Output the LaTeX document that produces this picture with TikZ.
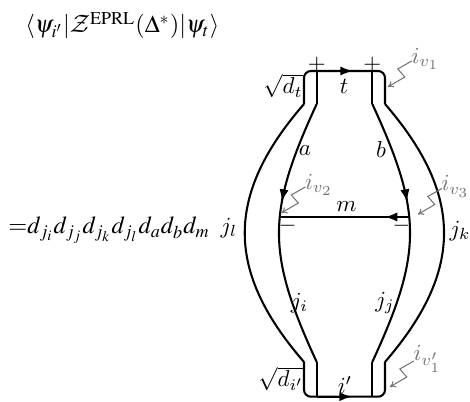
\documentclass[tikz,border=0pt]{standalone}
\usepackage{amsmath}
\usepackage{mathptmx}
\renewcommand{\rmdefault}{lmr}
\DeclareMathAlphabet{\mathcal}{OMS}{cmsy}{m}{n}
% Computer Modern math for the labels inside the diagram
\DeclareMathVersion{cmv}
\SetSymbolFont{operators}{cmv}{OT1}{cmr}{m}{n}
\SetSymbolFont{letters}{cmv}{OML}{cmm}{m}{it}
\SetSymbolFont{symbols}{cmv}{OMS}{cmsy}{m}{n}
\SetSymbolFont{largesymbols}{cmv}{OMX}{cmex}{m}{n}
\usepackage{tikz}
\usetikzlibrary{arrows.meta,decorations.markings}

\tikzset{
  strand/.style={line width=0.9pt},
  fwd/.style={-{Latex[length=5.5pt,width=4pt]}},
  midtip/.style={postaction={decorate,decoration={markings,
      mark=at position #1 with {\arrow{Latex[length=5.5pt,width=4pt]}}}}},
  lbl/.style={font=\mathversion{cmv}, inner sep=1pt},
  vtx/.style={lbl, text=black!55},
  zig/.style={black!55, line width=0.45pt, -{To[length=2.5pt,width=3pt]}},
  tms/.style={font=\mathversion{normal}\fontsize{10.6}{13}\selectfont, inner sep=0pt}
}
\newcommand{\zig}[1]{\draw[zig] ([shift={(3,2)}]#1.west) -- ++(-14,8) -- ++(7,8) -- ++(-17,10);}

\begin{document}
\begin{tikzpicture}[x=0.4345pt,y=-0.4345pt]
  \useasboundingbox (0,0) rectangle (470,402);

  % formulas
  \node[tms,anchor=base west] (amp) at (25,33)
    {$\langle\psi_{i'}|\mathcal{Z}^{\mathrm{EPRL}}(\Delta^*)|\psi_t\rangle$};
  \node[tms,anchor=base west] (lhs) at (8,234) {${=}d_{j_i}d_{j_j}d_{j_k}d_{j_l}d_ad_bd_m$};

  % corners of the two tubes
  \coordinate (tl) at (304,104);   \coordinate (tr) at (385,104);
  \coordinate (tli) at (316.7,104); \coordinate (tri) at (372.3,104);
  \coordinate (bl) at (304,362);   \coordinate (br) at (385,362);
  \coordinate (bli) at (316.7,362); \coordinate (bri) at (372.3,362);
  \coordinate (ttl) at (304,71);   \coordinate (ttr) at (385,71);
  \coordinate (tpl) at (316.7,71);  \coordinate (tpr) at (372.3,71);
  \coordinate (bbl) at (304,396.7); \coordinate (bbr) at (385,396.7);
  \coordinate (bpl) at (316.7,396.7); \coordinate (bpr) at (372.3,396.7);
  \coordinate (mL) at (279.8,217);  \coordinate (mR) at (409.2,217);

  % top and bottom caps
  \draw[strand,rounded corners=3pt] (tl) -- (ttl) -- (ttr) -- (tr);
  \draw[strand] (tpl) -- (tli);
  \draw[strand] (tpr) -- (tri);
  \draw[strand,fwd] (tpl) -- (353,71);
  \draw[strand,rounded corners=3pt] (bl) -- (bbl) -- (bbr) -- (br);
  \draw[strand] (bli) -- (bpl);
  \draw[strand] (bri) -- (bpr);
  \draw[strand,fwd] (bpl) -- (352,396.7);

  % strands
  \draw[strand] (tl) .. controls (225,195) and (225,271) .. (bl);
  \draw[strand,midtip=0.385] (tli) .. controls (266.4,213) and (266.4,253) .. (bli);
  \draw[strand,midtip=0.385] (tri) .. controls (422.6,213) and (422.6,253) .. (bri);
  \draw[strand] (tr) .. controls (463.7,195) and (463.7,271) .. (br);
  \draw[strand,midtip=0.19] (mR) -- (mL);

  % signs
  \node[lbl] (pl) at (316.7,64.5) {$+$};
  \node[lbl] (pr) at (372.3,64.5) {$+$};
  \node[lbl] (ml) at (287.5,226) {$-$};
  \node[lbl] (mr) at (401.5,226) {$-$};

  % labels
  \node[lbl] (t) at (344,86) {$t$};
  \node[lbl] (a) at (305,151) {$a$};
  \node[lbl] (b) at (381,150) {$b$};
  \node[lbl] (m) at (346.5,207) {$m$};
  \node[lbl] (jl) at (229,228) {$j_l$};
  \node[lbl] (jk) at (460,231) {$j_k$};
  \node[lbl] (ji) at (299.5,303) {$j_i$};
  \node[lbl] (jj) at (385,303) {$j_j$};
  \node[lbl] (ip) at (345,385) {$i'$};
  \node[lbl] (sdt) at (283,86) {$\sqrt{d_t}$};
  \node[lbl] (sdi) at (281,379) {$\sqrt{d_{i'}}$};

  % vertex intertwiners
  \node[vtx] (v1) at (425.5,59) {$i_{v_1}$};
  \node[vtx] (v2) at (319,185) {$i_{v_2}$};
  \node[vtx] (v3) at (455.5,186.5) {$i_{v_3}$};
  \node[vtx] (v1p) at (427.5,359) {$i_{v'_1}$};
  \zig{v1}
  \zig{v2}
  \zig{v3}
  \zig{v1p}
\end{tikzpicture}
\end{document}
